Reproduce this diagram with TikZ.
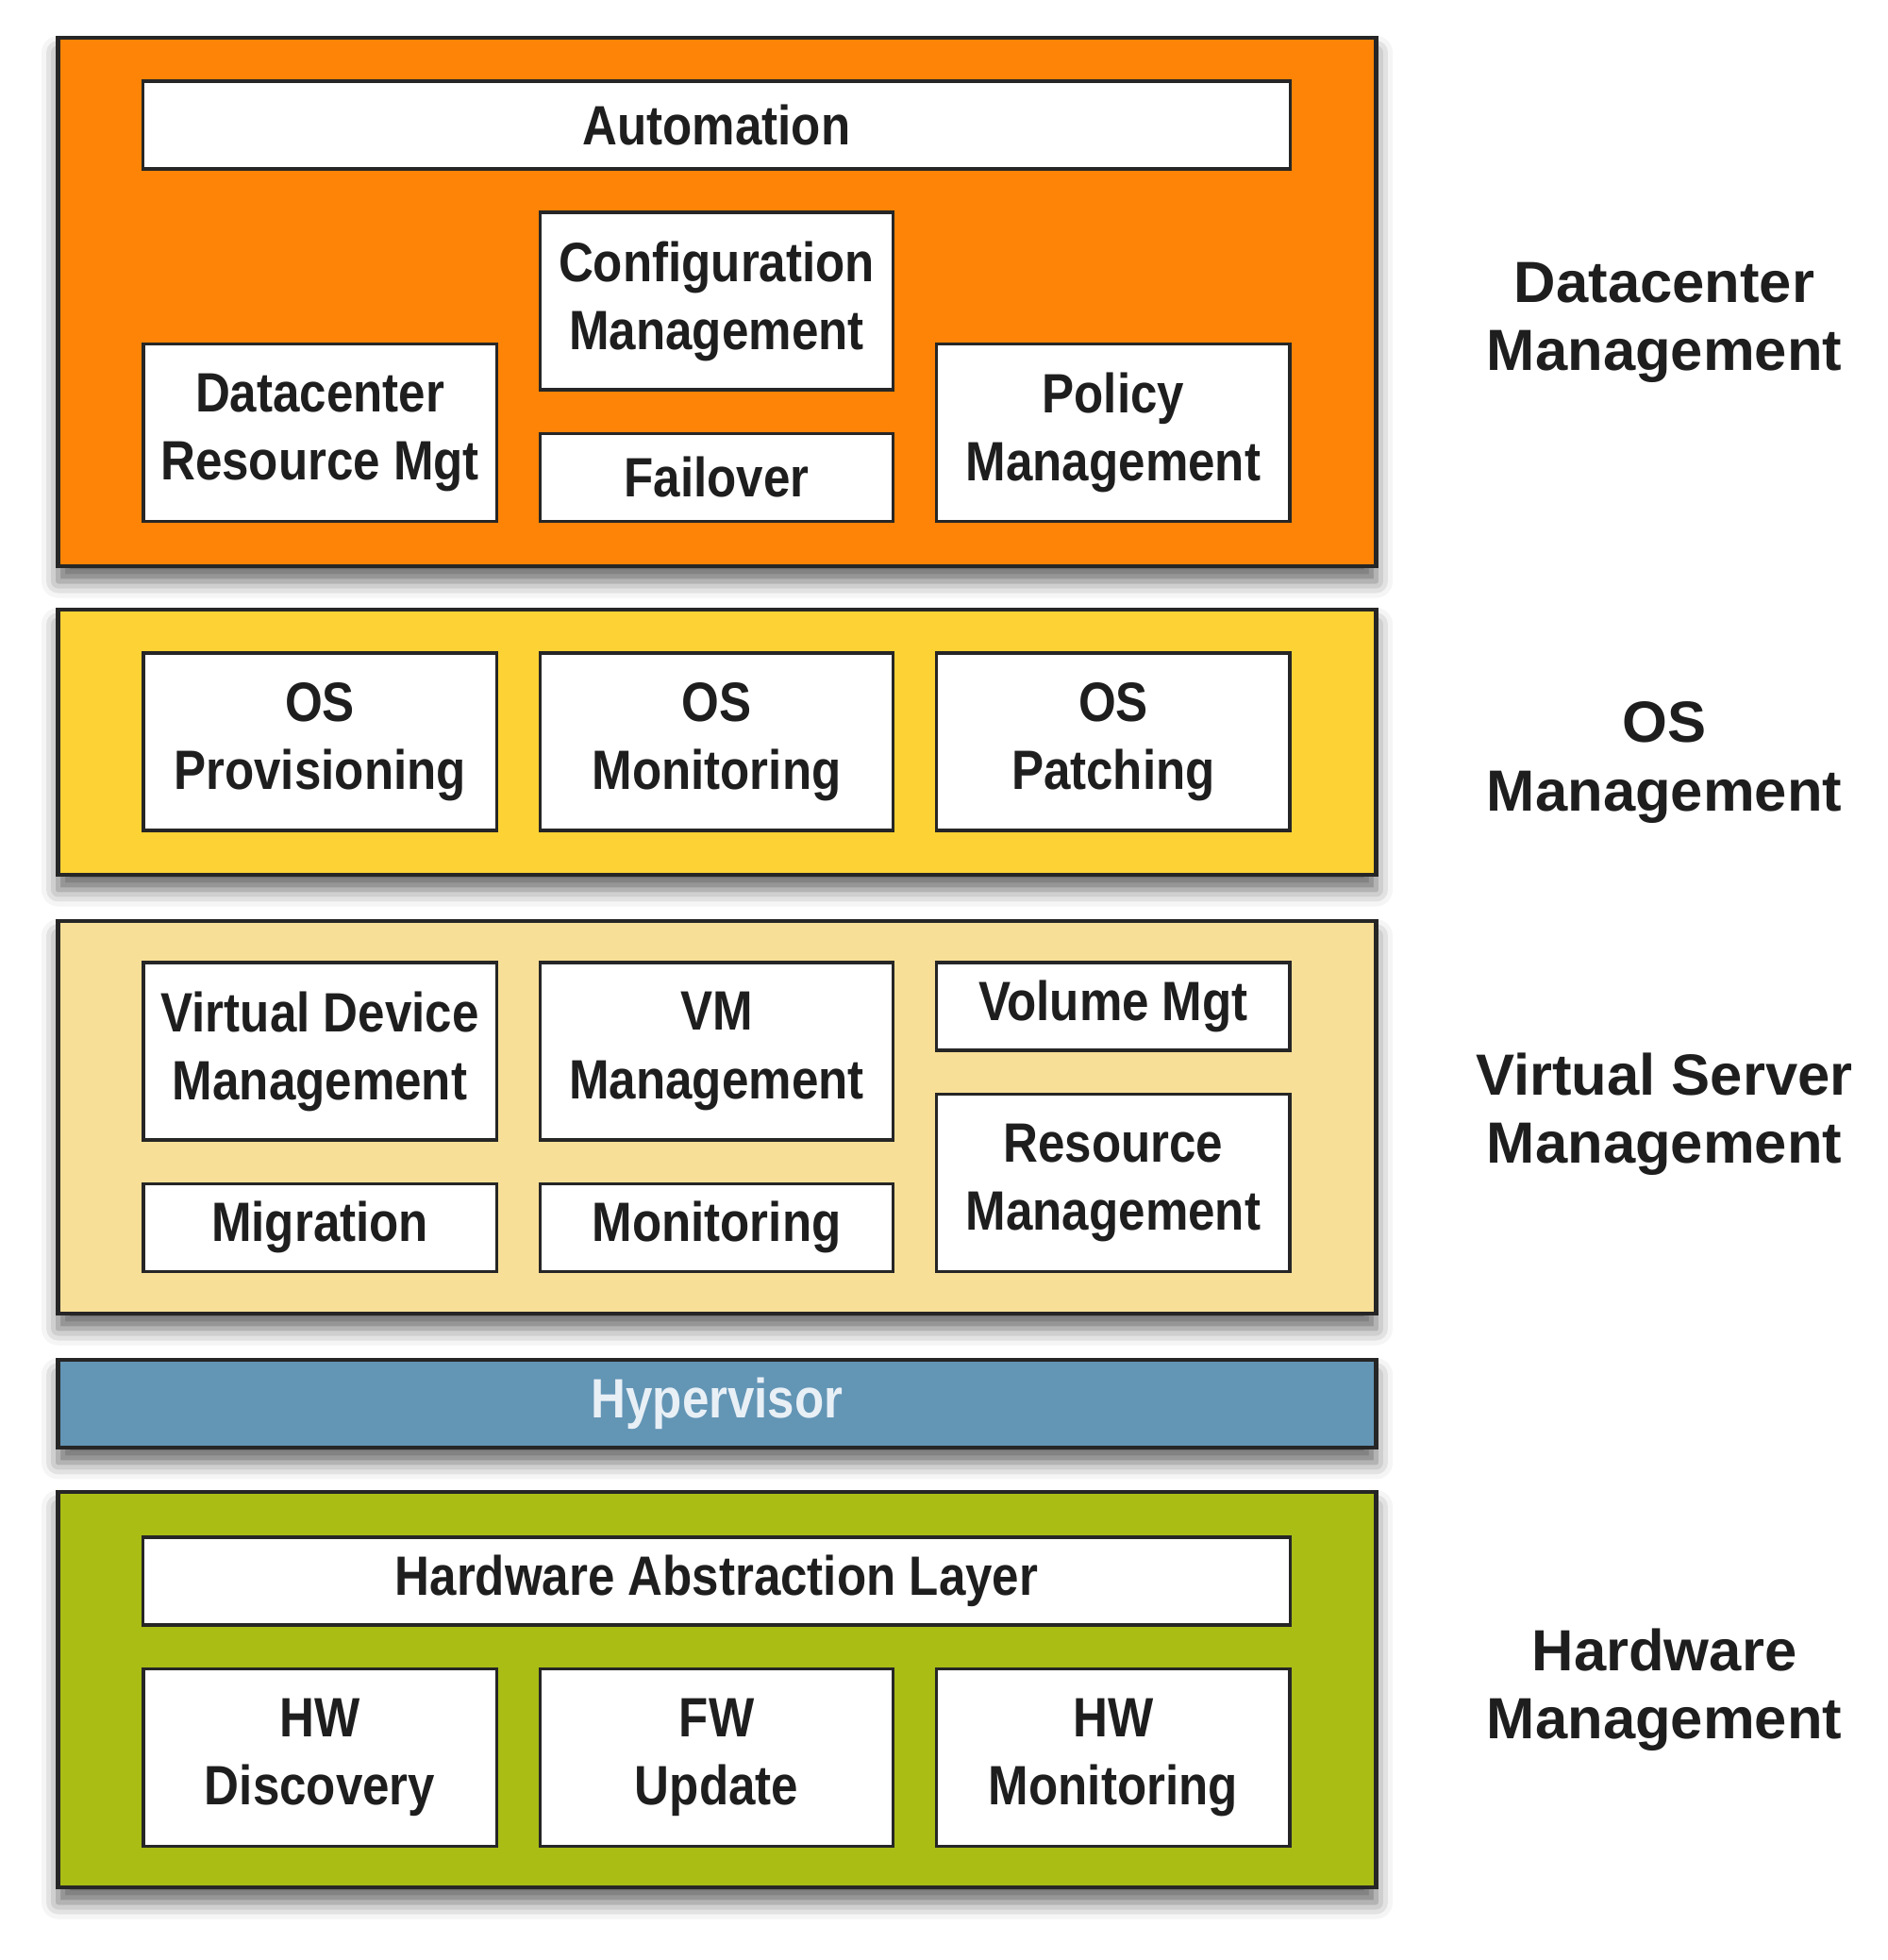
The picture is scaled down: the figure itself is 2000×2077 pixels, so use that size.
\documentclass[tikz,border=0pt]{standalone}
\usepackage{fontspec}
\setmainfont{Liberation Sans}[FakeStretch=0.87]
\newfontfamily\labelfont{Liberation Sans}
\usetikzlibrary{positioning,shadows.blur}

\definecolor{dcorange}{HTML}{FD8406}
\definecolor{osyellow}{HTML}{FDD234}
\definecolor{vstan}{HTML}{F8DF97}
\definecolor{hvblue}{HTML}{6395B5}
\definecolor{hwgreen}{HTML}{A9BD15}
\definecolor{edgegray}{HTML}{262626}
\definecolor{ink}{HTML}{1E1E1E}
\definecolor{hvtext}{HTML}{E8F0F6}

\begin{document}
\begin{tikzpicture}[x=0.01cm, y=0.01cm, node distance=0.43cm,
  font=\fontsize{16.7}{20.5}\selectfont\bfseries,
  panel/.style={draw=edgegray, line width=1.2pt, minimum width=13.96cm, inner sep=0pt,
    blur shadow={shadow xshift=0pt, shadow yshift=-4.5pt, shadow blur radius=5pt, shadow opacity=60}},
  box/.style={draw=edgegray, line width=0.9pt, fill=white, text=ink, align=center,
    inner sep=0pt, minimum width=3.74cm},
  wide/.style={box, minimum width=12.15cm, minimum height=0.93cm},
  tall/.style={box, minimum height=1.88cm},
  flat/.style={box, minimum height=0.93cm},
  layer/.style={text=ink, align=center, font=\labelfont\fontsize{17.5}{20.5}\selectfont\bfseries}]

  \useasboundingbox (0,0) rectangle (2000,-2077);

  % layers
  \node[panel, fill=dcorange, minimum height=5.6cm] (dc) at (760,-320) {};
  \node[panel, fill=osyellow, minimum height=2.81cm] (os) at (760,-786.5) {};
  \node[panel, fill=vstan, minimum height=4.16cm] (vs) at (760,-1184) {};
  \node[panel, fill=hvblue, minimum height=0.93cm, text=hvtext] (hv) at (760,-1487.5) {Hypervisor};
  \node[panel, fill=hwgreen, minimum height=4.19cm] (hw) at (760,-1790.5) {};

  % datacenter management
  \node[wide] (auto) at (759.5,-132.5) {Automation};
  \node[tall] (conf) at (759.5,-319) {Configuration\\Management};
  \node[flat, below=of conf] (fail) {Failover};
  \node[tall, left=of fail.south west, anchor=south east] (drm) {Datacenter\\Resource Mgt};
  \node[tall, right=of fail.south east, anchor=south west] (pol) {Policy\\Management};

  % os management
  \node[tall] (osmon) at (759.5,-786) {OS\\Monitoring};
  \node[tall, left=of osmon] (osprov) {OS\\Provisioning};
  \node[tall, right=of osmon] (ospatch) {OS\\Patching};

  % virtual server management
  \node[tall] (vmm) at (759.5,-1114) {VM\\Management};
  \node[tall, left=of vmm] (vdm) {Virtual Device\\Management};
  \node[flat, below=of vmm] (mon) {Monitoring};
  \node[flat, below=of vdm] (mig) {Migration};
  \node[flat, right=of vmm.north east, anchor=north west] (vol) {Volume Mgt};
  \node[tall, right=of mon.south east, anchor=south west] (res) {Resource\\Management};

  % hardware management
  \node[wide] (hal) at (759.5,-1675.5) {Hardware Abstraction Layer};
  \node[tall, below=of hal] (fw) {FW\\Update};
  \node[tall, left=of fw] (hwdisc) {HW\\Discovery};
  \node[tall, right=of fw] (hwmon) {HW\\Monitoring};

  % layer names
  \node[layer] (ldc) at (1764,-342) {Datacenter\\Management};
  \node[layer] (los) at (1764,-808) {OS\\Management};
  \node[layer] (lvs) at (1764,-1181) {Virtual Server\\Management};
  \node[layer] (lhw) at (1764,-1791) {Hardware\\Management};

\end{tikzpicture}
\end{document}
